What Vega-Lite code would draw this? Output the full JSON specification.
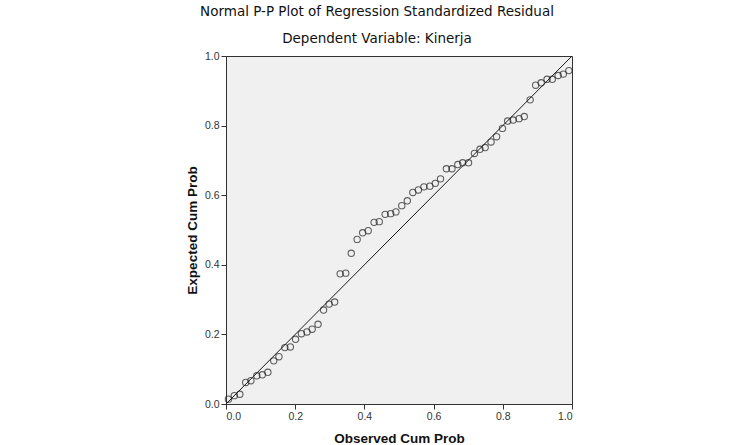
{
  "$schema": "https://vega.github.io/schema/vega-lite/v6.json",
  "width": 346,
  "height": 348,
  "autosize": "none",
  "padding": {"left": 226, "top": 56, "right": 183, "bottom": 41},
  "background": "white",
  "title": {
    "text": "Normal P-P Plot of Regression Standardized Residual",
    "subtitle": "Dependent Variable: Kinerja",
    "font": "DejaVu Sans",
    "fontSize": 13.5,
    "fontWeight": "normal",
    "color": "#111111",
    "subtitleFont": "DejaVu Sans",
    "subtitleFontSize": 13.5,
    "subtitleColor": "#111111",
    "subtitlePadding": 13,
    "offset": 6,
    "dx": -22,
    "anchor": "middle"
  },
  "config": {
    "view": {"fill": "#f0f0f0", "stroke": "#333333", "strokeWidth": 1},
    "axis": {
      "grid": false,
      "labelFont": "Liberation Sans",
      "labelFontSize": 10.5,
      "labelColor": "#333333",
      "labelPadding": 2,
      "tickSize": 5,
      "tickColor": "#333333",
      "domainColor": "#333333",
      "titleFont": "Liberation Sans",
      "titleFontSize": 13.5,
      "titleFontWeight": "bold",
      "titleColor": "#111111"
    },
    "axisX": {"titlePadding": 10},
    "axisY": {"titlePadding": 5}
  },
  "datasets": {
    "pts": [
      {"obs": 0.007, "exp": 0.014},
      {"obs": 0.024, "exp": 0.024},
      {"obs": 0.040, "exp": 0.028},
      {"obs": 0.057, "exp": 0.062},
      {"obs": 0.072, "exp": 0.067},
      {"obs": 0.089, "exp": 0.081},
      {"obs": 0.105, "exp": 0.084},
      {"obs": 0.121, "exp": 0.091},
      {"obs": 0.138, "exp": 0.124},
      {"obs": 0.153, "exp": 0.136},
      {"obs": 0.170, "exp": 0.162},
      {"obs": 0.186, "exp": 0.164},
      {"obs": 0.201, "exp": 0.186},
      {"obs": 0.218, "exp": 0.202},
      {"obs": 0.234, "exp": 0.207},
      {"obs": 0.249, "exp": 0.215},
      {"obs": 0.266, "exp": 0.229},
      {"obs": 0.282, "exp": 0.270},
      {"obs": 0.298, "exp": 0.287},
      {"obs": 0.314, "exp": 0.293},
      {"obs": 0.330, "exp": 0.374},
      {"obs": 0.346, "exp": 0.376},
      {"obs": 0.362, "exp": 0.433},
      {"obs": 0.379, "exp": 0.473},
      {"obs": 0.395, "exp": 0.492},
      {"obs": 0.411, "exp": 0.498},
      {"obs": 0.428, "exp": 0.522},
      {"obs": 0.443, "exp": 0.524},
      {"obs": 0.460, "exp": 0.545},
      {"obs": 0.476, "exp": 0.547},
      {"obs": 0.491, "exp": 0.552},
      {"obs": 0.508, "exp": 0.570},
      {"obs": 0.524, "exp": 0.584},
      {"obs": 0.540, "exp": 0.608},
      {"obs": 0.556, "exp": 0.615},
      {"obs": 0.572, "exp": 0.624},
      {"obs": 0.589, "exp": 0.626},
      {"obs": 0.605, "exp": 0.634},
      {"obs": 0.620, "exp": 0.647},
      {"obs": 0.637, "exp": 0.676},
      {"obs": 0.653, "exp": 0.676},
      {"obs": 0.670, "exp": 0.688},
      {"obs": 0.684, "exp": 0.693},
      {"obs": 0.701, "exp": 0.693},
      {"obs": 0.718, "exp": 0.720},
      {"obs": 0.734, "exp": 0.732},
      {"obs": 0.749, "exp": 0.737},
      {"obs": 0.766, "exp": 0.753},
      {"obs": 0.782, "exp": 0.768},
      {"obs": 0.799, "exp": 0.792},
      {"obs": 0.814, "exp": 0.813},
      {"obs": 0.830, "exp": 0.816},
      {"obs": 0.847, "exp": 0.820},
      {"obs": 0.862, "exp": 0.826},
      {"obs": 0.879, "exp": 0.874},
      {"obs": 0.895, "exp": 0.916},
      {"obs": 0.911, "exp": 0.923},
      {"obs": 0.928, "exp": 0.933},
      {"obs": 0.943, "exp": 0.933},
      {"obs": 0.960, "exp": 0.944},
      {"obs": 0.975, "exp": 0.948},
      {"obs": 0.991, "exp": 0.958}
    ],
    "ref": [
      {"obs": 0, "exp": 0},
      {"obs": 1, "exp": 1}
    ]
  },
  "layer": [
    {
      "data": {"name": "ref"},
      "mark": {"type": "line", "color": "#1a1a1a", "strokeWidth": 1},
      "encoding": {
        "x": {"field": "obs", "type": "quantitative", "scale": {"domain": [0, 1], "nice": false}, "axis": {"values": [0, 0.2, 0.4, 0.6, 0.8, 1.0], "format": ".1f"}, "title": "Observed Cum Prob"},
        "y": {"field": "exp", "type": "quantitative", "scale": {"domain": [0, 1], "nice": false}, "axis": {"values": [0, 0.2, 0.4, 0.6, 0.8, 1.0], "format": ".1f"}, "title": "Expected Cum Prob"}
      }
    },
    {
      "data": {"name": "pts"},
      "mark": {"type": "point", "shape": "circle", "filled": false, "color": "#222222", "size": 40, "strokeWidth": 1.1},
      "encoding": {
        "x": {"field": "obs", "type": "quantitative"},
        "y": {"field": "exp", "type": "quantitative"}
      }
    }
  ]
}
